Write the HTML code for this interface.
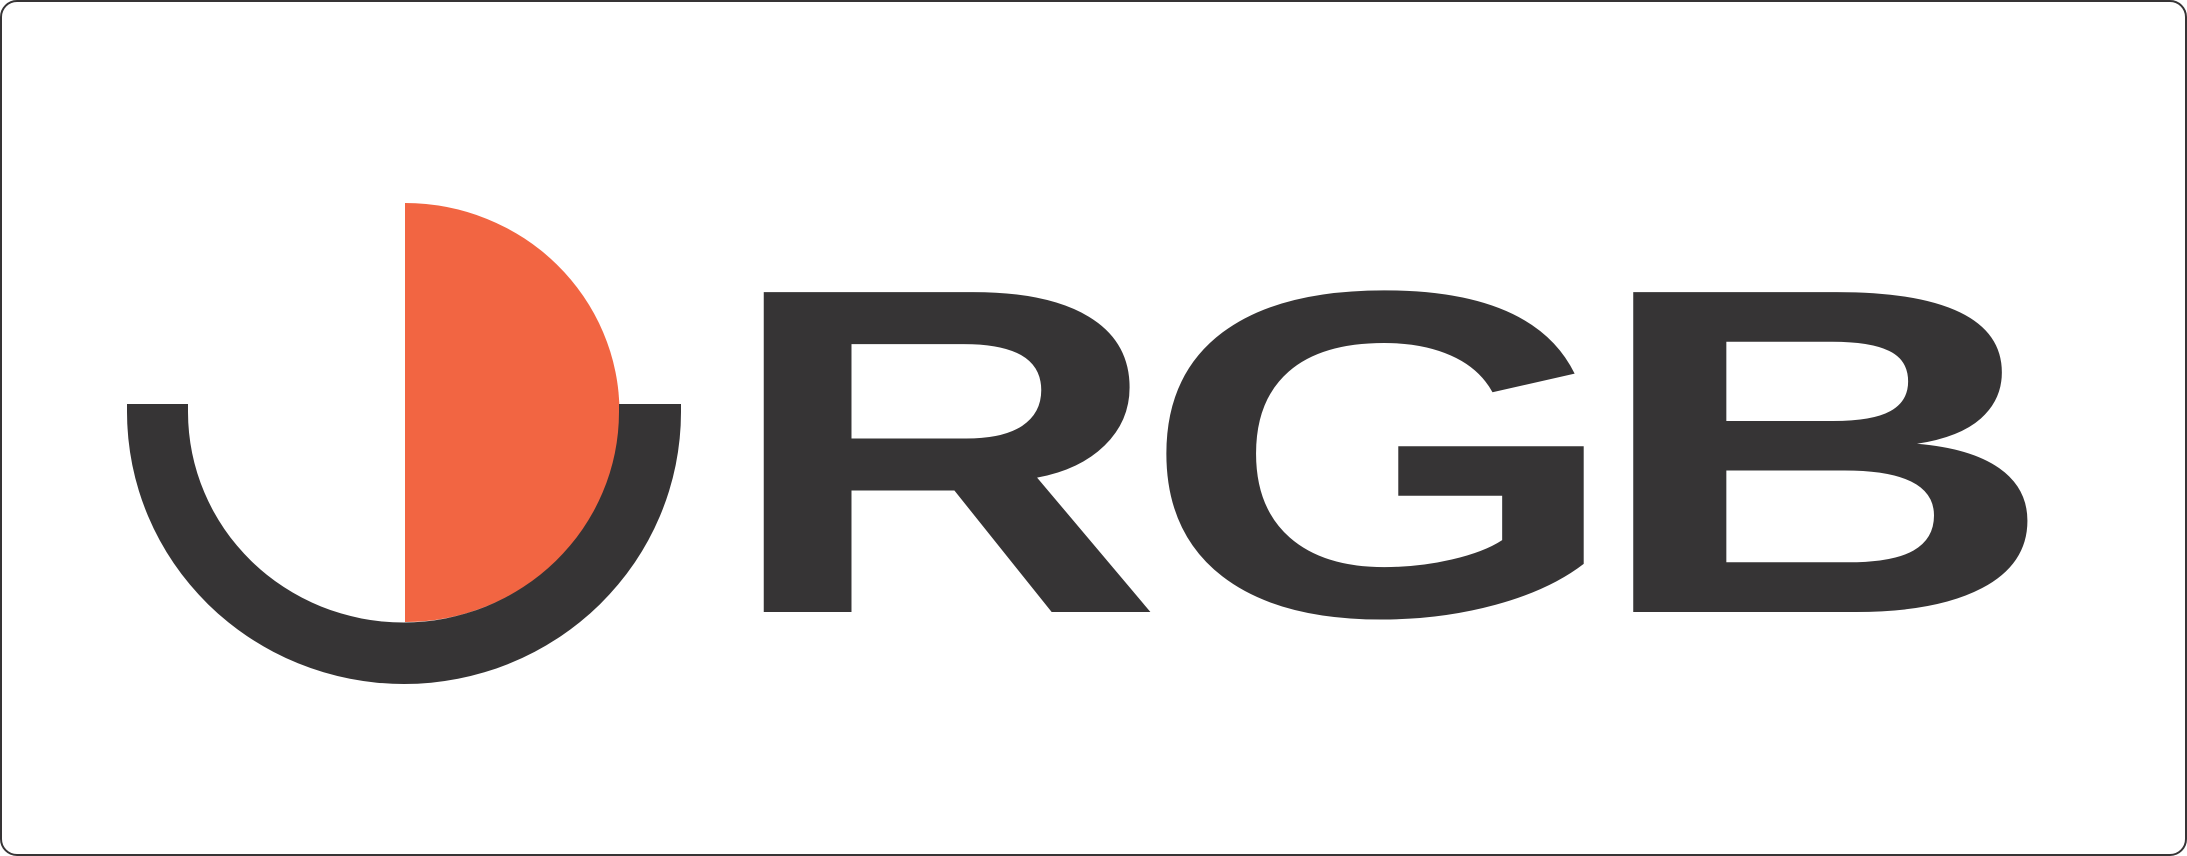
<!DOCTYPE html>
<html>
<head>
<meta charset="utf-8">
<style>
html,body{margin:0;padding:0;background:#fff;}
svg{display:block;}
</style>
</head>
<body>
<svg width="2187" height="856" viewBox="0 0 2187 856" xmlns="http://www.w3.org/2000/svg">
  <rect x="1" y="1" width="2185" height="854" rx="16" ry="16" fill="#fff" stroke="#363435" stroke-width="2"/>
  <path d="M405,203 A214,209 0 0 1 405,622 Z" fill="#f26542"/>
  <path d="M127,404 L127,412 A277,272 0 0 0 681,412 L681,404 L619,404 L619,412 A215,210 0 0 1 188,412 L188,404 Z" fill="#363435"/>
  <g font-family="'Liberation Sans', sans-serif" font-weight="bold" font-size="465" fill="#363435">
    <text x="0" y="0" transform="translate(723,612) scale(1.31,1)">R</text>
    <text x="0" y="0" transform="translate(1141,615) scale(1.33,1)">G</text>
    <text x="0" y="0" transform="translate(1590,612) scale(1.39,1)">B</text>
  </g>
</svg>
</body>
</html>
